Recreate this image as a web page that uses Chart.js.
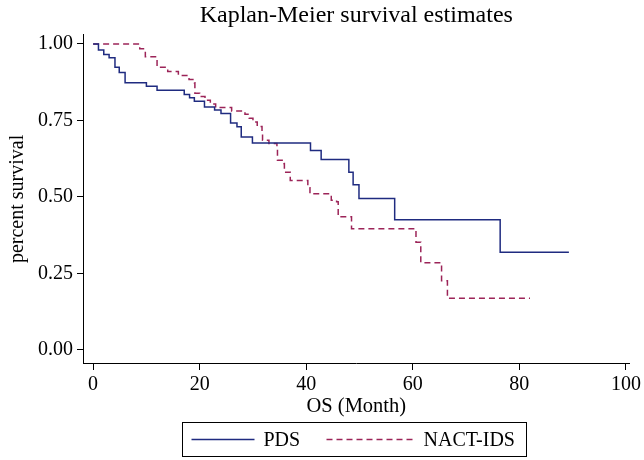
<!DOCTYPE html>
<html>
<head>
<meta charset="utf-8">
<title>Kaplan-Meier survival estimates</title>
<script src="https://cdn.jsdelivr.net/npm/chart.js@4.4.1/dist/chart.umd.min.js"></script>
<style>
	html, body { margin: 0; padding: 0; background: #fff; }
	#chartBox { width: 644px; height: 460px; }
</style>
</head>
<body>
<div id="chartBox"><canvas id="myChart"></canvas></div>
<script>
// KM steps: time (months) and survival after that time
let pdsTime = [0, 1.0, 2.0, 3.0, 4.1, 4.9, 6.0, 10.0, 12.0, 17.1, 18.1, 19.0, 20.9, 22.8, 24.0, 25.8, 27.0, 27.8, 29.9, 40.8, 42.8, 48.0, 48.8, 49.9, 56.6, 76.4, 89.3]
let pdsSurv = [1.0, 0.980, 0.966, 0.955, 0.924, 0.907, 0.873, 0.862, 0.849, 0.835, 0.824, 0.813, 0.794, 0.784, 0.773, 0.742, 0.729, 0.696, 0.676, 0.652, 0.622, 0.581, 0.540, 0.495, 0.425, 0.319, 0.319]

let nactTime = [0, 8.75, 9.8, 12.0, 14.0, 16.0, 18.0, 19.0, 19.1, 20.0, 21.0, 22.0, 23.0, 26.0, 28.5, 29.3, 30.0, 30.8, 31.7, 31.8, 33.0, 34.5, 34.6, 35.8, 35.9, 37.0, 40.3, 40.7, 44.7, 45.7, 46.0, 48.5, 60.6, 61.5, 65.4, 66.5, 82.0]
let nactSurv = [1.0, 0.984, 0.958, 0.924, 0.910, 0.897, 0.884, 0.873, 0.839, 0.828, 0.816, 0.804, 0.792, 0.781, 0.770, 0.757, 0.745, 0.730, 0.713, 0.685, 0.675, 0.664, 0.620, 0.609, 0.581, 0.554, 0.530, 0.510, 0.489, 0.484, 0.435, 0.396, 0.352, 0.285, 0.226, 0.169, 0.169]

let seriesNames = ['PDS', 'NACT-IDS']
let xTicks = [0, 20, 40, 60, 80, 100]
let yTicks = [0, 0.25, 0.5, 0.75, 1]

const serif = "'Liberation Serif', 'Times New Roman', serif"
const blue = '#1f2b80'
const red = '#9c2458'

function toPoints(times, surv) {
	return times.map((t, i) => ({ x: t, y: surv[i] }))
}

// stata puts the keys inside a framed box under the x title
const boxedLegend = {
	id: 'boxedLegend',
	afterDraw(chart) {
		const ctx = chart.ctx;
		const area = chart.chartArea;
		const mid = (area.left + area.right) / 2;
		const left = Math.round(mid - 174) + 0.5;
		const top = 422.5;
		ctx.save();
		ctx.strokeStyle = '#000';
		ctx.lineWidth = 1;
		ctx.strokeRect(left, top, 344, 34);

		const cy = top + 17;
		const keys = [
			{ x: left + 9, w: 63, color: blue, dash: [], text: seriesNames[0] },
			{ x: left + 144, w: 88, color: red, dash: [6, 4], text: seriesNames[1] }
		];
		ctx.font = '20px ' + serif;
		ctx.textBaseline = 'middle';
		ctx.fillStyle = '#000';
		keys.forEach(k => {
			ctx.strokeStyle = k.color;
			ctx.lineWidth = 1.5;
			ctx.setLineDash(k.dash);
			ctx.beginPath();
			ctx.moveTo(k.x, cy);
			ctx.lineTo(k.x + k.w, cy);
			ctx.stroke();
			ctx.setLineDash([]);
			ctx.fillText(k.text, k.x + k.w + 9, cy + 1);
		});
		ctx.restore();
	}
}

function createChart() {
	const data = {
		datasets: [
			{
				label: seriesNames[0],
				data: toPoints(pdsTime, pdsSurv),
				borderColor: blue,
				borderWidth: 1.5,
				stepped: true,
				pointRadius: 0,
				fill: false
			}, {
				label: seriesNames[1],
				data: toPoints(nactTime, nactSurv),
				borderColor: red,
				borderWidth: 1.5,
				borderDash: [6, 4],
				stepped: true,
				pointRadius: 0,
				fill: false
			}
		]
	};

	const config = {
		type: 'line',
		data: data,
		options: {
			responsive: true,
			maintainAspectRatio: false,
			animation: false,
			layout: {
				padding: { left: 0, right: 12, top: 0, bottom: 40 }
			},
			plugins: {
				legend: { display: false },
				tooltip: { enabled: false },
				title: {
					display: true,
					fullSize: false,
					text: 'Kaplan-Meier survival estimates',
					color: '#000',
					font: { family: serif, size: 24, weight: 'normal' },
					padding: { top: 1, bottom: 5 }
				}
			},
			scales: {
				x: {
					type: 'linear',
					min: -1.9,
					max: 100.7,
					afterBuildTicks: (scale) => {
						scale.ticks = xTicks.map(v => ({ value: v }));
					},
					afterFit: (scale) => {
						scale.height = 57;
					},
					grid: { drawOnChartArea: false, drawTicks: true, tickLength: 7, color: '#000' },
					border: { display: true, color: '#000', width: 1 },
					ticks: {
						color: '#000',
						padding: 3,
						maxRotation: 0,
						font: { family: serif, size: 20 }
					},
					title: {
						display: true,
						text: 'OS (Month)',
						color: '#000',
						font: { family: serif, size: 20.5 },
						padding: { top: 0, bottom: 1 }
					}
				},
				y: {
					type: 'linear',
					min: -0.043,
					max: 1.03,
					afterBuildTicks: (scale) => {
						scale.ticks = yTicks.map(v => ({ value: v }));
					},
					afterFit: (scale) => {
						scale.width = 83;
					},
					grid: { drawOnChartArea: false, drawTicks: true, tickLength: 6, color: '#000' },
					border: { display: true, color: '#000', width: 1 },
					ticks: {
						color: '#000',
						padding: 4,
						font: { family: serif, size: 20 },
						callback: (v) => Number(v).toFixed(2)
					},
					title: {
						display: true,
						text: 'percent survival',
						color: '#000',
						font: { family: serif, size: 20 },
						padding: { top: 6, bottom: 0 }
					}
				}
			}
		},
		plugins: [boxedLegend]
	};

	const ctx = document.getElementById('myChart').getContext('2d');
	new Chart(ctx, config);
}

createChart();
</script>
</body>
</html>
